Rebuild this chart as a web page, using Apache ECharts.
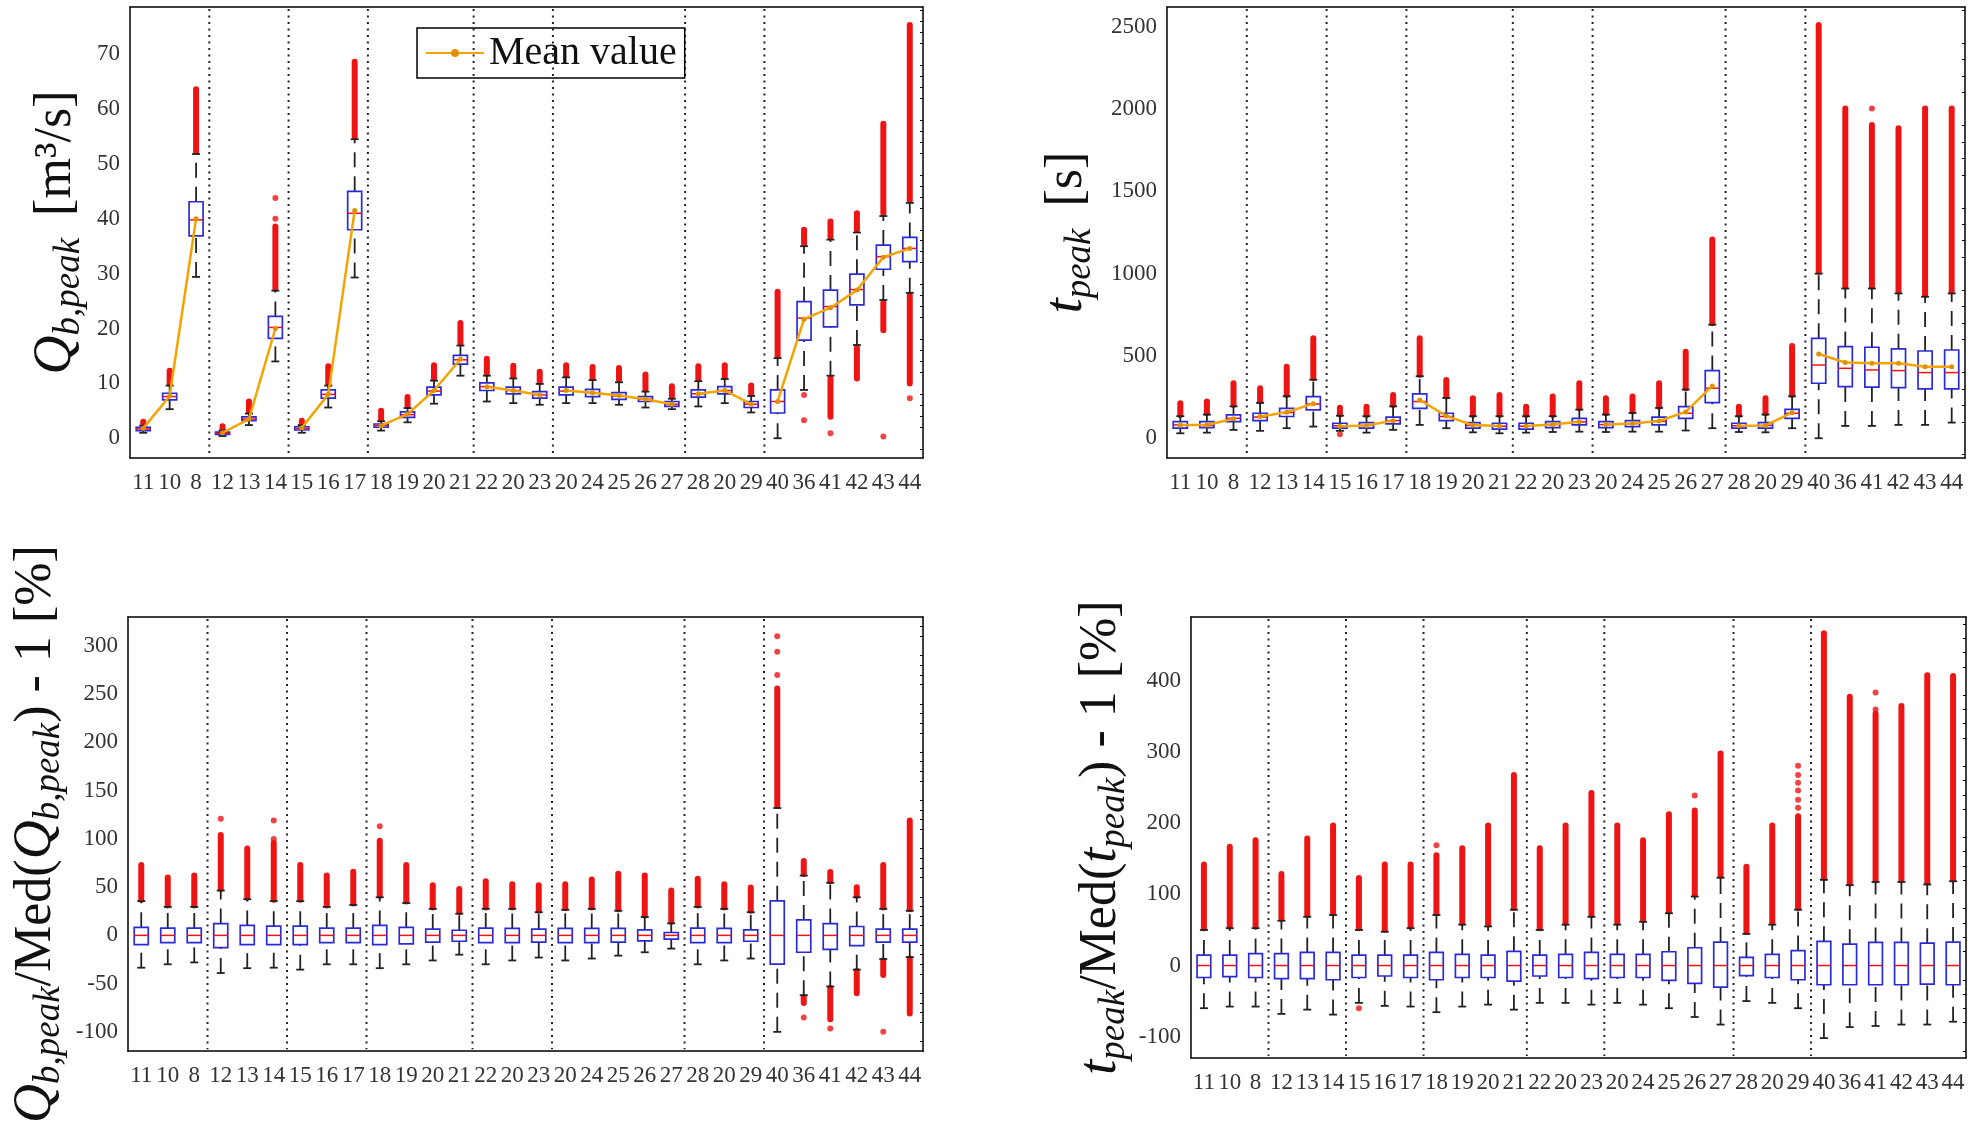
<!DOCTYPE html>
<html>
<head>
<meta charset="utf-8">
<script src="https://cdn.jsdelivr.net/npm/echarts@6/dist/echarts.min.js"></script>
<style>
  html, body { margin: 0; padding: 0; background: #fff; }
  #chart { width: 1984px; height: 1125px; }
</style>
</head>
<body>
<div id="chart"></div>
<script>
const categories = ["11","10","8","12","13","14","15","16","17","18","19","20","21","22","20","23","20","24","25","26","27","28","20","29","40","36","41","42","43","44"];
const groupSizes = [3, 3, 3, 4, 3, 5, 3, 6];

// Q_b,peak: [low whisker, Q1, median, Q3, high whisker]
const qBox = [
  [1.0, 1.4, 1.7, 2.0, 2.3], [5.3, 7.0, 7.6, 8.2, 9.6], [29.4, 36.9, 39.8, 43.1, 51.8],
  [0.4, 0.7, 0.9, 1.1, 1.4], [2.4, 3.2, 3.5, 3.9, 4.5], [14.0, 18.2, 20.2, 22.2, 26.9],
  [1.0, 1.5, 1.8, 2.1, 2.4], [5.6, 7.3, 8.0, 8.8, 9.6], [29.3, 38.0, 41.0, 45.0, 54.5],
  [1.4, 2.0, 2.3, 2.6, 3.1], [2.9, 3.8, 4.3, 4.8, 5.5], [6.3, 7.9, 8.6, 9.3, 10.5], [11.4, 13.5, 14.3, 15.1, 16.9],
  [6.7, 8.7, 9.4, 10.1, 11.4], [6.4, 8.1, 8.7, 9.3, 10.9], [6.1, 7.3, 7.9, 8.5, 9.9],
  [6.4, 7.9, 8.6, 9.3, 11.1], [6.4, 7.6, 8.3, 8.9, 10.6], [6.1, 7.1, 7.7, 8.3, 10.2], [5.6, 6.7, 7.1, 7.6, 8.5], [5.3, 5.8, 6.2, 6.7, 7.2],
  [5.8, 7.5, 8.1, 8.8, 10.4], [6.4, 8.1, 8.7, 9.4, 10.8], [4.7, 5.6, 6.2, 6.7, 7.7],
  [0.0, 4.6, 6.7, 8.8, 14.6], [8.8, 17.9, 21.9, 24.9, 35.0], [11.4, 20.3, 24.0, 27.0, 36.2],
  [17.0, 24.3, 27.1, 29.9, 37.5], [25.2, 30.8, 33.1, 35.2, 40.5], [26.5, 32.2, 34.6, 36.6, 42.9]
];
const qOutUp = [
  [2.7, 3.0], [10.0, 12.3], [52.2, 63.6], [1.7, 2.2], [4.9, 6.7], [27.3, 38.6], [2.8, 3.2], [10.0, 13.1], [55.0, 68.6],
  [3.5, 5.0], [5.9, 7.5], [10.9, 13.3], [17.3, 21.0], [11.8, 14.5], [11.3, 13.2], [10.3, 12.1],
  [11.5, 13.3], [11.0, 13.0], [10.6, 12.8], [8.9, 11.6], [7.6, 9.5], [10.8, 13.1], [11.2, 13.3], [8.1, 9.6],
  [15.0, 26.7], [35.5, 38.0], [36.7, 39.5], [38.0, 41.0], [41.0, 57.3], [43.4, 75.3]
];
const qOutLow = [[26, 3.9, 10.9], [27, 10.9, 16.5], [28, 19.7, 24.7], [29, 10.0, 26.0]];
const qDots = [[5, 40.0], [5, 43.8], [25, 7.9], [25, 3.3], [26, 0.9], [28, 0.3], [29, 7.3]];
const qMean = [1.8, 7.7, 40.0, 1.0, 3.5, 20.0, 1.9, 8.0, 41.5, 2.3, 4.4, 8.7, 14.4, 9.4, 8.7, 7.9,
  8.7, 8.3, 7.8, 7.1, 6.2, 8.1, 8.7, 6.2, 6.7, 21.7, 23.8, 27.0, 33.0, 34.6];

// t_peak [s]
const tBox = [
  [30, 61, 81, 101, 134], [34, 65, 78, 101, 144], [51, 101, 121, 142, 194],
  [45, 107, 129, 152, 215], [61, 132, 156, 182, 255], [71, 172, 208, 253, 356],
  [45, 61, 76, 91, 137], [34, 61, 78, 95, 134], [51, 87, 107, 128, 194],
  [81, 182, 223, 269, 377], [61, 107, 132, 152, 245], [36, 61, 78, 95, 134], [30, 55, 73, 91, 134],
  [34, 55, 73, 91, 134], [38, 65, 83, 101, 134], [40, 81, 99, 121, 174],
  [38, 65, 83, 101, 144], [40, 71, 89, 107, 154], [40, 81, 103, 128, 184], [47, 121, 152, 192, 296], [61, 217, 304, 411, 690],
  [38, 61, 76, 91, 134], [36, 61, 78, 95, 144], [61, 121, 152, 176, 255],
  [0, 334, 445, 607, 1000], [75, 314, 425, 557, 910], [75, 310, 415, 553, 910],
  [81, 308, 411, 543, 880], [81, 300, 399, 530, 860], [95, 300, 399, 536, 880]
];
const tOutUp = [
  [142, 212], [152, 223], [202, 334], [223, 304], [263, 435], [364, 607], [145, 185], [142, 192], [202, 263],
  [385, 607], [253, 354], [142, 243], [142, 263], [142, 192], [142, 253], [182, 334],
  [152, 243], [162, 253], [192, 334], [304, 526], [698, 1208], [142, 192], [152, 243], [263, 561],
  [1012, 2510], [921, 2004], [921, 1903], [891, 1883], [870, 2004], [891, 2004]
];
const tOutLow = [];
const tDots = [[6, 25], [26, 2004]];
const tMean = [80, 80, 118, 132, 158, 210, 73, 78, 107, 233, 135, 80, 75, 75, 83, 100,
  83, 90, 105, 160, 318, 76, 78, 155, 512, 460, 455, 455, 435, 435];

// Q_b,peak / Med(Q_b,peak) - 1 [%]
const rqBox = [
  [-33.5, -9.5, 0, 8.4, 35.5], [-30, -7.6, 0, 7.6, 29.5], [-28, -7.6, 0, 7.6, 29.5],
  [-39, -12.6, 0, 12.2, 46.5], [-34, -9.5, 0, 10.3, 37.5], [-33.5, -9.5, 0, 9.5, 35.5],
  [-35.5, -9.5, 0, 9.5, 35.5], [-30, -7.6, 0, 7.6, 29.5], [-30, -7.6, 0, 7.6, 31.5],
  [-34, -9.5, 0, 10.3, 39.5], [-30, -8.8, 0, 8.4, 33.5], [-26, -6.9, 0, 6.5, 27.5], [-20, -6.1, 0, 5.3, 22.5],
  [-30, -7.6, 0, 7.6, 27.5], [-26, -7.6, 0, 7.2, 27.5], [-23, -6.9, 0, 6.5, 24],
  [-26, -7.6, 0, 7.2, 26.5], [-24, -7.6, 0, 7.2, 27.5], [-21, -6.9, 0, 7.2, 25.5], [-17.5, -5.7, 0, 5.7, 19], [-13.7, -3.8, 0, 3.0, 12.5],
  [-30, -7.6, 0, 7.6, 29.5], [-26, -7.6, 0, 7.2, 27.5], [-24, -6.1, 0, 5.7, 24],
  [-100, -29.7, 0, 35.8, 132], [-62, -17.5, 0, 16, 62], [-53, -14.5, 0, 12.2, 54.5],
  [-35.5, -10.7, 0, 9.2, 39.5], [-24.5, -6.9, 0, 6.5, 27.5], [-22.5, -6.9, 0, 6.5, 25.5]
];
const rqOutUp = [
  [37, 73], [31, 60], [31, 62], [48, 104], [39, 90], [37, 96], [37, 73], [31, 62], [33, 66],
  [41, 98], [35, 73], [29, 52], [24, 48], [29, 56], [29, 53], [25.5, 52],
  [28, 53], [29, 58], [27, 64], [20.6, 62], [14, 46.5], [31, 58.7], [29, 53], [25.5, 49.6],
  [134, 256], [63.7, 77], [56, 65.6], [41, 50], [29, 73], [27, 119]
];
const rqOutLow = [[25, -70, -64], [26, -87, -54.5], [27, -60, -37], [28, -41, -26], [29, -81, -24]];
const rqDots = [[3, 121], [5, 100], [5, 119], [9, 113], [24, 270], [24, 294], [24, 310], [25, -85], [26, -96.5], [28, -100]];

// t_peak / Med(t_peak) - 1 [%]
const rtBox = [
  [-60, -16.8, 0, 14.7, 50], [-57.7, -15.7, 0, 14.7, 52.5], [-57.7, -16.8, 0, 16.8, 52.5],
  [-68, -18.4, 0, 16.8, 63], [-62, -18.4, 0, 18.4, 68.5], [-69, -20, 0, 18.4, 71],
  [-52.5, -16.8, 0, 14.7, 50], [-56.7, -14.7, 0, 14.7, 47.5], [-57.7, -16.8, 0, 14.7, 52.5],
  [-65.6, -20, 0, 18.4, 71], [-57.7, -16.8, 0, 15.7, 57.5], [-55, -16.8, 0, 14.7, 55], [-62, -22, 0, 20, 78.5],
  [-52.5, -14.7, 0, 14.7, 50], [-52.5, -16.8, 0, 15.7, 57.5], [-55, -18.4, 0, 18.4, 68.5],
  [-52.5, -16.8, 0, 15.7, 57.5], [-55, -16.8, 0, 15.7, 61.5], [-60, -21, 0, 19.4, 73.5], [-72.4, -25, 0, 25, 97], [-83, -30.4, 0, 33, 123.5],
  [-50, -14.2, 0, 11.5, 44.5], [-52.5, -16.8, 0, 15.7, 57.5], [-60, -20, 0, 21, 78.5],
  [-102, -27, 0, 34, 120.5], [-86.6, -27, 0, 30, 113], [-85, -27, 0, 32.5, 117.5],
  [-83, -27, 0, 32.5, 117.5], [-83, -26, 0, 31.5, 114], [-79, -27, 0, 33, 118.5]
];
const rtOutUp = [
  [52.5, 142], [55, 167], [55, 176], [65.6, 128.6], [71, 178.5], [73.5, 197], [52.5, 123], [50, 142], [55, 142],
  [73.5, 155], [60, 165], [57.7, 197], [81, 268], [52.5, 165], [60, 197], [71, 242.5],
  [60, 197], [64, 176], [76, 212.6], [99.7, 218], [126, 298], [47, 139], [60, 197], [81, 210],
  [123, 467], [115.5, 378], [120, 354], [120, 365], [116.5, 408], [121, 407]
];
const rtOutLow = [];
const rtDots = [[6, -60], [9, 169], [19, 239], [23, 222], [23, 233], [23, 246], [23, 257], [23, 268], [23, 281], [26, 360], [26, 384]];

const FONT = "'Liberation Serif', serif";
const BLUE = "#2b2bd6";
const RED = "#ee1414";
const ORANGE = "#f2a400";

const grids = [
  { left: 130, top: 7, width: 793, height: 451 },
  { left: 1167, top: 7, width: 798, height: 451 },
  { left: 128, top: 617, width: 795, height: 441 },
  { left: 1191, top: 617, width: 775, height: 441 }
];

const yRanges = [[-3.6, 78.6, 8], [-120, 2620, 5], [-120, 330, 9], [-130, 490, 6]];
const nameGaps = [42, 68, 60, 58];

const richName = {
  i: { fontFamily: FONT, fontStyle: "italic", fontSize: 54, lineHeight: 64 },
  s: { fontFamily: FONT, fontStyle: "italic", fontSize: 37, lineHeight: 28, verticalAlign: "bottom" },
  n: { fontFamily: FONT, fontSize: 52, lineHeight: 64 },
  g: { fontFamily: FONT, fontSize: 52, lineHeight: 64, width: 22 }
};
const yNames = [
  "{i|Q}{s|b,peak}{g| }{n|[m³/s]}",
  "{i|t}{s|peak}{g| }{n|[s]}",
  "{i|Q}{s|b,peak}{n|/Med(}{i|Q}{s|b,peak}{n|) - 1 [%]}",
  "{i|t}{s|peak}{n|/Med(}{i|t}{s|peak}{n|) - 1 [%]}"
];

const axisLine = { show: true, onZero: false, lineStyle: { color: "#000", width: 1.5 } };

function renderBox(params, api) {
  const i = api.value(0);
  const lo = api.coord([i, api.value(1)]);
  const q1 = api.coord([i, api.value(2)]);
  const md = api.coord([i, api.value(3)]);
  const q3 = api.coord([i, api.value(4)]);
  const hi = api.coord([i, api.value(5)]);
  const bw = api.size([1, 0])[0] * 0.53;
  const cx = lo[0];
  const cap = 4;
  const wStyle = { stroke: "#222", lineWidth: 1.8, lineDash: [15, 9] };
  return {
    type: "group",
    children: [
      { type: "line", shape: { x1: cx, y1: q3[1], x2: cx, y2: hi[1] }, style: wStyle },
      { type: "line", shape: { x1: cx, y1: lo[1], x2: cx, y2: q1[1] }, style: wStyle },
      { type: "line", shape: { x1: cx - cap, y1: hi[1], x2: cx + cap, y2: hi[1] }, style: { stroke: "#222", lineWidth: 1.8 } },
      { type: "line", shape: { x1: cx - cap, y1: lo[1], x2: cx + cap, y2: lo[1] }, style: { stroke: "#222", lineWidth: 1.8 } },
      { type: "rect", shape: { x: cx - bw / 2, y: q3[1], width: bw, height: q1[1] - q3[1] }, style: { fill: "#fff", stroke: BLUE, lineWidth: 1.7 } },
      { type: "line", shape: { x1: cx - bw / 2, y1: md[1], x2: cx + bw / 2, y2: md[1] }, style: { stroke: RED, lineWidth: 1.5 } }
    ]
  };
}

function renderStreak(params, api) {
  const i = api.value(0);
  const a = api.coord([i, api.value(1)]);
  const b = api.coord([i, api.value(2)]);
  return { type: "line", shape: { x1: a[0], y1: a[1], x2: b[0], y2: b[1] }, style: { stroke: RED, lineWidth: 6, lineCap: "round" } };
}

function renderSep(params, api) {
  const b = api.value(0);
  const p0 = api.coord([b - 1, 0]);
  const p1 = api.coord([b, 0]);
  const x = (p0[0] + p1[0]) / 2;
  const cs = params.coordSys;
  return { type: "line", shape: { x1: x, y1: cs.y + 2, x2: x, y2: cs.y + cs.height - 2 }, style: { stroke: "#222", lineWidth: 2, lineDash: [2, 4.5] } };
}

const breaks = [];
groupSizes.reduce((acc, n) => { acc += n; if (acc < categories.length) breaks.push(acc); return acc; }, 0);

const panels = [
  { box: qBox, up: qOutUp, low: qOutLow, dots: qDots, mean: qMean },
  { box: tBox, up: tOutUp, low: tOutLow, dots: tDots, mean: tMean },
  { box: rqBox, up: rqOutUp, low: rqOutLow, dots: rqDots, mean: null },
  { box: rtBox, up: rtOutUp, low: rtOutLow, dots: rtDots, mean: null }
];

const tickStyle = { color: "#000", width: 1.5 };
const xAxis = [], yAxis = [], series = [];
grids.forEach((g, k) => {
  const r = yRanges[k];
  xAxis.push({
    type: "category", gridIndex: k, data: categories, position: "bottom",
    axisLine, splitLine: { show: false },
    axisTick: { alignWithLabel: true, inside: true, length: 7, lineStyle: tickStyle },
    axisLabel: { interval: 0, fontFamily: FONT, fontSize: 23, color: "#333", margin: 13 }
  });
  xAxis.push({
    type: "category", gridIndex: k, data: categories, position: "top",
    axisLine, splitLine: { show: false },
    axisTick: { alignWithLabel: true, inside: true, length: 7, lineStyle: tickStyle },
    axisLabel: { show: false }
  });
  yAxis.push({
    type: "value", gridIndex: k, min: r[0], max: r[1], splitNumber: r[2], position: "left",
    axisLine, splitLine: { show: false },
    axisTick: { inside: true, length: 7, lineStyle: tickStyle },
    axisLabel: {
      fontFamily: FONT, fontSize: 23, color: "#333", margin: 10,
      showMinLabel: false, showMaxLabel: false, formatter: (v) => String(v)
    },
    name: yNames[k], nameLocation: "middle", nameRotate: 90, nameGap: nameGaps[k],
    nameTextStyle: { fontFamily: FONT, fontSize: 52, color: "#111", rich: richName }
  });
  yAxis.push({
    type: "value", gridIndex: k, min: r[0], max: r[1], splitNumber: r[2], position: "right",
    axisLine, splitLine: { show: false },
    axisTick: { inside: true, length: 7, lineStyle: tickStyle },
    minorTick: { show: true, splitNumber: 5, length: 3, lineStyle: { color: "#000", width: 1 } },
    axisLabel: { show: false }
  });

  const p = panels[k];
  const ax = { xAxisIndex: 2 * k, yAxisIndex: 2 * k };
  series.push({ type: "custom", ...ax, silent: true, z: 1, renderItem: renderSep, data: breaks.map((b) => [b, 0]), encode: { x: 0, y: 1 } });
  const streaks = p.up.map((u, i) => [i, u[0], u[1]]).concat(p.low);
  series.push({ type: "custom", ...ax, silent: true, z: 2, renderItem: renderStreak, data: streaks, encode: { x: 0, y: [1, 2] } });
  series.push({ type: "scatter", ...ax, silent: true, z: 2, symbol: "circle", symbolSize: 6, itemStyle: { color: RED }, data: p.dots });
  series.push({ type: "custom", ...ax, silent: true, z: 3, renderItem: renderBox, data: p.box.map((b, i) => [i, ...b]), encode: { x: 0, y: [1, 2, 3, 4, 5] } });
  if (p.mean) {
    let start = 0;
    groupSizes.forEach((n) => {
      const pts = [];
      for (let i = start; i < start + n; i++) pts.push([i, p.mean[i]]);
      start += n;
      series.push({
        type: "line", name: "Mean value", ...ax, z: 5, silent: true,
        symbol: "circle", symbolSize: 5, showSymbol: true,
        lineStyle: { color: ORANGE, width: 2.5 }, itemStyle: { color: "#e09000" },
        data: pts
      });
    });
  }
});

const chart = echarts.init(document.getElementById("chart"));
chart.setOption({
  animation: false,
  backgroundColor: "#fff",
  grid: grids,
  xAxis,
  yAxis,
  legend: {
    data: ["Mean value"], left: 417, top: 28,
    borderColor: "#000", borderWidth: 1.5, padding: [5, 8, 5, 8],
    itemWidth: 58, itemHeight: 10,
    textStyle: { fontFamily: FONT, fontSize: 40, color: "#111" }
  },
  series
});
window.addEventListener("resize", () => chart.resize());
</script>
</body>
</html>
